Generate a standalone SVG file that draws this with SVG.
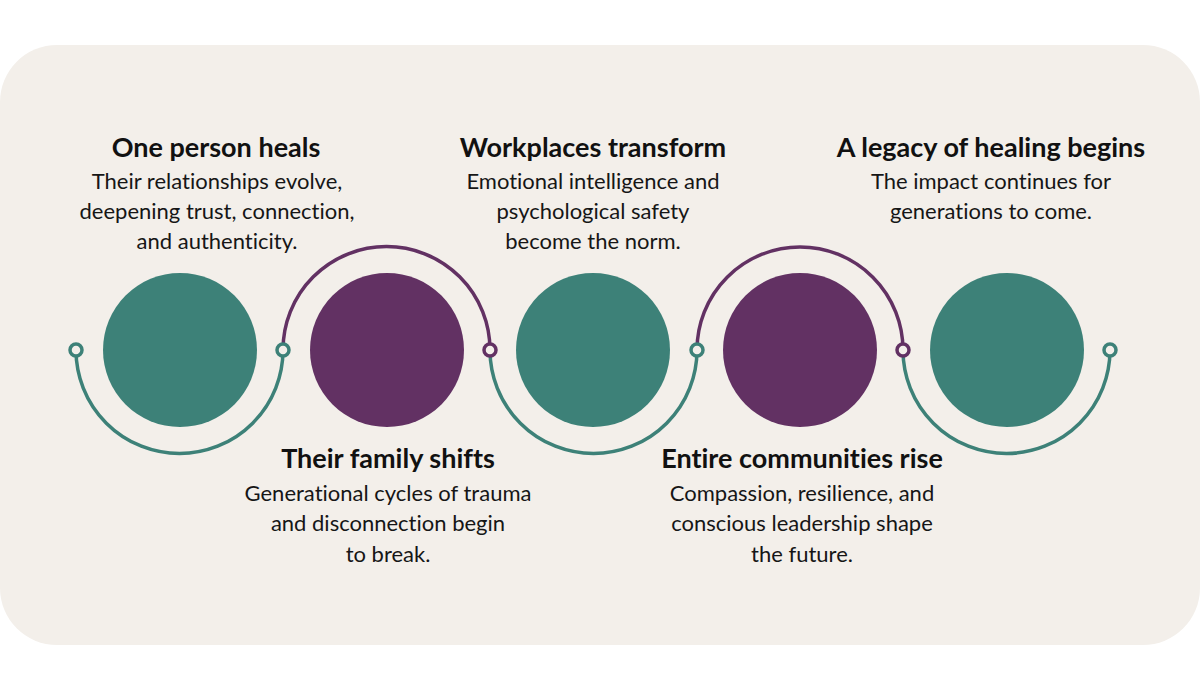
<svg xmlns="http://www.w3.org/2000/svg" width="1200" height="675" viewBox="0 0 1200 675">
<style>
.bg{fill:#F3EFEA}
.teal{fill:#3D8178}
.purple{fill:#623163}
.arc{fill:none;stroke-width:3.5}
.at{stroke:#3D8178}
.ap{stroke:#623163}
.ring{fill:#F3EFEA;stroke-width:3.5}
.title{font-family:Lato,"Liberation Sans",sans-serif;font-weight:700;font-size:27px;fill:#111;text-anchor:middle;font-variant-ligatures:none}
.desc{font-family:Lato,"Liberation Sans",sans-serif;font-size:22px;fill:#161616;text-anchor:middle;font-variant-ligatures:none}
</style>
<rect width="1200" height="675" fill="#ffffff"/>
<rect class="bg" x="0" y="45" width="1200" height="600" rx="57" ry="57"/>
<g id="connectors">
<path class="arc at" d="M76,350 A103.5,103.5 0 0 0 283,350"/>
<path class="arc ap" d="M283,350 A103.5,103.5 0 0 1 490,350"/>
<path class="arc at" d="M490,350 A103.5,103.5 0 0 0 697,350"/>
<path class="arc ap" d="M697,350 A103,103 0 0 1 903,350"/>
<path class="arc at" d="M903,350 A103.5,103.5 0 0 0 1110,350"/>
<circle class="ring at" cx="76" cy="350" r="6"/>
<circle class="ring at" cx="283" cy="350" r="6"/>
<circle class="ring ap" cx="490" cy="350" r="6"/>
<circle class="ring at" cx="697" cy="350" r="6"/>
<circle class="ring ap" cx="903" cy="350" r="6"/>
<circle class="ring at" cx="1110" cy="350" r="6"/>
</g>
<g id="node1">
<circle class="teal" cx="180" cy="350" r="77"/>
<text class="title" x="216" y="157">One person heals</text>
<text class="desc" x="217" y="189">Their relationships evolve,</text>
<text class="desc" x="217" y="219">deepening trust, connection,</text>
<text class="desc" x="217" y="249">and authenticity.</text>
</g>
<g id="node2">
<circle class="purple" cx="387" cy="350" r="77"/>
<text class="title" x="388" y="468">Their family shifts</text>
<text class="desc" x="388" y="501">Generational cycles of trauma</text>
<text class="desc" x="388" y="531">and disconnection begin</text>
<text class="desc" x="388" y="562">to break.</text>
</g>
<g id="node3">
<circle class="teal" cx="593" cy="350" r="77"/>
<text class="title" x="593" y="157">Workplaces transform</text>
<text class="desc" x="593" y="189">Emotional intelligence and</text>
<text class="desc" x="593" y="219">psychological safety</text>
<text class="desc" x="593" y="249">become the norm.</text>
</g>
<g id="node4">
<circle class="purple" cx="800" cy="350" r="77"/>
<text class="title" x="802" y="468">Entire communities rise</text>
<text class="desc" x="802" y="501">Compassion, resilience, and</text>
<text class="desc" x="802" y="531">conscious leadership shape</text>
<text class="desc" x="802" y="562">the future.</text>
</g>
<g id="node5">
<circle class="teal" cx="1007" cy="350" r="77"/>
<text class="title" x="991" y="157">A legacy of healing begins</text>
<text class="desc" x="991" y="189">The impact continues for</text>
<text class="desc" x="991" y="219">generations to come.</text>
</g>
</svg>
